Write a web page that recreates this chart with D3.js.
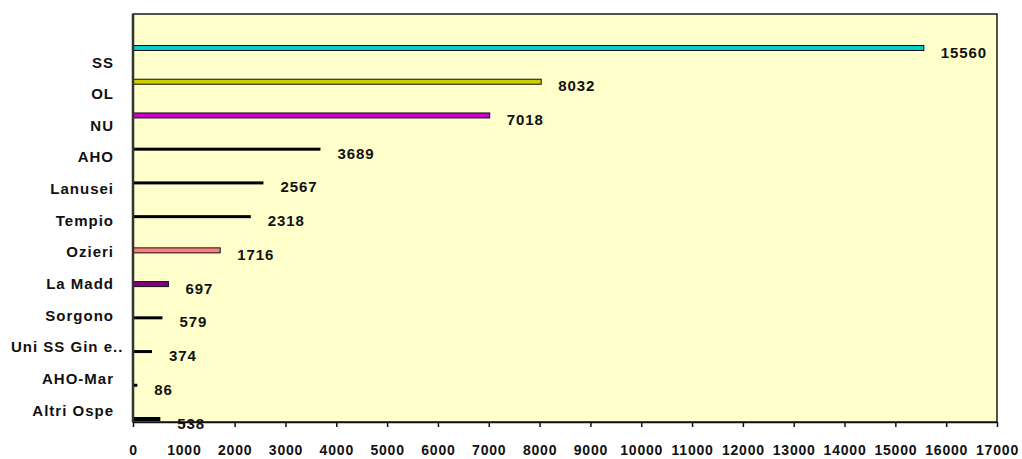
<!DOCTYPE html>
<html>
<head>
<meta charset="utf-8">
<script src="https://cdn.jsdelivr.net/npm/d3@7"></script>
<style>
body { margin: 0; background: #fff; }
text { font-family: "Liberation Sans", Arial, sans-serif; font-weight: bold; }
</style>
</head>
<body>
<svg width="1022" height="459"></svg>
<script>
var categories = ["SS", "OL", "NU", "AHO", "Lanusei", "Tempio", "Ozieri", "La Madd", "Sorgono", "Uni SS Gin e..", "AHO-Mar", "Altri Ospe"];
var values = [15560, 8032, 7018, 3689, 2567, 2318, 1716, 697, 579, 374, 86, 538];
var barColors = ["#00CCCC", "#CCCC00", "#CC00CC", "#000000", "#000000", "#000000", "#FF7F7F", "#800080", "#000000", "#000000", "#000000", "#000000"];
var xTicks = d3.range(0, 17001, 1000);

var PLOT_L = 133, PLOT_R = 997, PLOT_T = 14, PLOT_B = 422;

var svg = d3.select("svg");

var x = d3.scaleLinear().domain([0, 17000]).range([PLOT_L, PLOT_R]);
// bars and category labels sit on slightly different grids in the original
var yBar = d3.scalePoint().domain(categories).range([48, 419]);
var yLab = d3.scalePoint().domain(categories).range([62, 410]);

// plot background
svg.append("rect")
    .attr("x", PLOT_L).attr("y", PLOT_T)
    .attr("width", PLOT_R - PLOT_L).attr("height", PLOT_B - PLOT_T)
    .style("fill", "#FFFFCC")
    .style("stroke", "#1a1a1a")
    .style("stroke-width", 1.5);

// bars
categories.forEach(function(c, i){
    var black = barColors[i] === "#000000";
    var h = black ? (i === categories.length - 1 ? 4 : 3) : 5;
    svg.append("rect")
        .attr("class", "bar")
        .attr("x", x(0))
        .attr("y", yBar(c) - h / 2)
        .attr("width", x(values[i]) - x(0))
        .attr("height", h)
        .style("fill", barColors[i])
        .style("stroke", black ? "none" : "#111")
        .style("stroke-width", 1);

    svg.append("text")
        .attr("x", x(values[i]) + 17)
        .attr("y", yBar(c) + 4)
        .attr("dominant-baseline", "central")
        .style("font-size", "15px")
        .style("letter-spacing", "0.9px")
        .style("fill", "#111")
        .text(values[i]);

    var lab = svg.append("text")
        .attr("x", 114)
        .attr("y", yLab(c))
        .attr("text-anchor", "end")
        .attr("dominant-baseline", "central")
        .style("font-size", "15px")
        .style("letter-spacing", "1px")
        .style("fill", "#111")
        .text(c);
    // labels too long for the margin start at the left edge instead (as Excel does)
    var bb = lab.node().getBBox();
    if (bb.x < 11) {
        lab.attr("text-anchor", "start").attr("x", 11);
    }
});

// left axis line
svg.append("line")
    .attr("x1", PLOT_L).attr("x2", PLOT_L)
    .attr("y1", PLOT_T).attr("y2", PLOT_B)
    .style("stroke", "#333")
    .style("stroke-width", 2.5);

// x axis
var xAxis = svg.append("g")
    .attr("transform", "translate(0," + PLOT_B + ")")
    .call(d3.axisBottom(x).tickValues(xTicks).tickSize(5).tickSizeOuter(0).tickFormat(d3.format("d")));
xAxis.select(".domain").style("stroke", "#111").style("stroke-width", 1.5);
xAxis.selectAll(".tick line").style("stroke", "#111").style("stroke-width", 1.5);
xAxis.selectAll(".tick text")
    .attr("y", 28)
    .attr("dy", null)
    .attr("dominant-baseline", "central")
    .style("font-size", "14px")
    .style("letter-spacing", "0.8px")
    .style("font-family", "Liberation Sans, Arial, sans-serif")
    .style("font-weight", "bold")
    .style("fill", "#111");
</script>
</body>
</html>
